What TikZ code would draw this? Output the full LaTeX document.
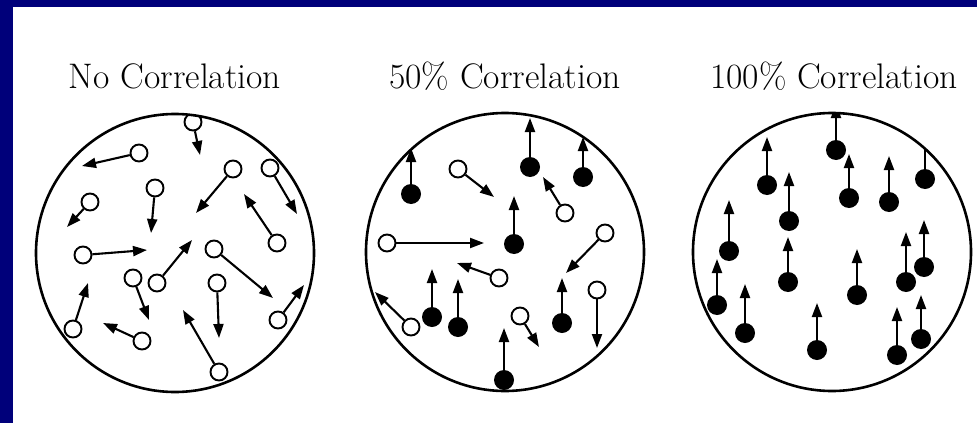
\documentclass[tikz,border=0pt]{standalone}
\usepackage{tikz}
\usetikzlibrary{arrows.meta}
\definecolor{slideblue}{RGB}{0,0,122}

\begin{document}
\begin{tikzpicture}[x=1pt,y=-1pt,
  ring/.style={draw,circle,line width=2.6pt,minimum size=278pt,inner sep=0pt},
  opendot/.style={draw,circle,line width=1.9pt,fill=white,minimum size=17pt,inner sep=0pt},
  fulldot/.style={circle,fill=black,minimum size=20pt,inner sep=0pt},
  vec/.style={line width=2.1pt,-{Triangle[length=14pt,width=10pt]}},
  title/.style={font=\fontsize{35.5}{40}\selectfont,anchor=base}]
  \useasboundingbox (0,0) rectangle (977,423);
  \fill[slideblue] (0,0) rectangle (977,423);
  \fill[white] (13,7) rectangle (977,423);

  \node[title] (t1) at (175,88) {No Correlation};
  \node[title] (t2) at (505,88) {50\% Correlation};
  \node[title] (t3) at (834,88) {100\% Correlation};

  % no correlation
  \begin{scope}
    \clip (175,253) circle[radius=139];
    \node[opendot] (n1) at (193,122) {}; \coordinate (n1t) at (200,155); \draw[vec] (n1)--(n1t);
    \node[opendot] (n2) at (139,153) {}; \coordinate (n2t) at (82,166); \draw[vec] (n2)--(n2t);
    \node[opendot] (n3) at (233,169) {}; \coordinate (n3t) at (196,213); \draw[vec] (n3)--(n3t);
    \node[opendot] (n4) at (270,168) {}; \coordinate (n4t) at (297,214); \draw[vec] (n4)--(n4t);
    \node[opendot] (n5) at (155,188) {}; \coordinate (n5t) at (151,233); \draw[vec] (n5)--(n5t);
    \node[opendot] (n6) at (90,202) {}; \coordinate (n6t) at (67,227); \draw[vec] (n6)--(n6t);
    \node[opendot] (n7) at (277,243) {}; \coordinate (n7t) at (244,194); \draw[vec] (n7)--(n7t);
    \node[opendot] (n8) at (83,255) {}; \coordinate (n8t) at (147,250); \draw[vec] (n8)--(n8t);
    \node[opendot] (n9) at (214,249) {}; \coordinate (n9t) at (273,298); \draw[vec] (n9)--(n9t);
    \node[opendot] (n10) at (157,283) {}; \coordinate (n10t) at (192,240); \draw[vec] (n10)--(n10t);
    \node[opendot] (n11) at (133,278) {}; \coordinate (n11t) at (149,320); \draw[vec] (n11)--(n11t);
    \node[opendot] (n12) at (217,283) {}; \coordinate (n12t) at (219,338); \draw[vec] (n12)--(n12t);
    \node[opendot] (n13) at (73,329) {}; \coordinate (n13t) at (88,283); \draw[vec] (n13)--(n13t);
    \node[opendot] (n14) at (142,341) {}; \coordinate (n14t) at (103,323); \draw[vec] (n14)--(n14t);
    \node[opendot] (n15) at (219,372) {}; \coordinate (n15t) at (183,310); \draw[vec] (n15)--(n15t);
    \node[opendot] (n16) at (278,320) {}; \coordinate (n16t) at (304,285); \draw[vec] (n16)--(n16t);
  \end{scope}
  \node[ring] (ring1) at (175,253) {};

  % half correlation
  \begin{scope}
    \clip (505,252) circle[radius=139];
    \node[fulldot] (h1) at (411,194) {}; \coordinate (h1t) at (411,148); \draw[vec] (h1)--(h1t);
    \node[fulldot] (h2) at (530,167) {}; \coordinate (h2t) at (530,118); \draw[vec] (h2)--(h2t);
    \node[fulldot] (h3) at (583,177) {}; \coordinate (h3t) at (583,137); \draw[vec] (h3)--(h3t);
    \node[fulldot] (h4) at (514,244) {}; \coordinate (h4t) at (514,196); \draw[vec] (h4)--(h4t);
    \node[fulldot] (h5) at (432,317) {}; \coordinate (h5t) at (432,269); \draw[vec] (h5)--(h5t);
    \node[fulldot] (h6) at (458,327) {}; \coordinate (h6t) at (458,279); \draw[vec] (h6)--(h6t);
    \node[fulldot] (h7) at (562,323) {}; \coordinate (h7t) at (562,278); \draw[vec] (h7)--(h7t);
    \node[fulldot] (h8) at (504,380) {}; \coordinate (h8t) at (504,328); \draw[vec] (h8)--(h8t);
    \node[opendot] (h9) at (458,169) {}; \coordinate (h9t) at (494,197); \draw[vec] (h9)--(h9t);
    \node[opendot] (h10) at (565,213) {}; \coordinate (h10t) at (543,177); \draw[vec] (h10)--(h10t);
    \node[opendot] (h11) at (387,243) {}; \coordinate (h11t) at (484,243); \draw[vec] (h11)--(h11t);
    \node[opendot] (h12) at (605,233) {}; \coordinate (h12t) at (566,273); \draw[vec] (h12)--(h12t);
    \node[opendot] (h13) at (499,278) {}; \coordinate (h13t) at (457,263); \draw[vec] (h13)--(h13t);
    \node[opendot] (h14) at (597,290) {}; \coordinate (h14t) at (597,348); \draw[vec] (h14)--(h14t);
    \node[opendot] (h15) at (411,327) {}; \coordinate (h15t) at (375,292); \draw[vec] (h15)--(h15t);
    \node[opendot] (h16) at (520,316) {}; \coordinate (h16t) at (539,347); \draw[vec] (h16)--(h16t);
  \end{scope}
  \node[ring] (ring2) at (505,252) {};

  % full correlation
  \begin{scope}
    \clip (832,252) circle[radius=139];
    \node[fulldot] (f1) at (836,150) {}; \coordinate (f1t) at (836,104); \draw[vec] (f1)--(f1t);
    \node[fulldot] (f2) at (767,185) {}; \coordinate (f2t) at (767,137); \draw[vec] (f2)--(f2t);
    \node[fulldot] (f3) at (849,198) {}; \coordinate (f3t) at (849,154); \draw[vec] (f3)--(f3t);
    \node[fulldot] (f4) at (889,202) {}; \coordinate (f4t) at (889,156); \draw[vec] (f4)--(f4t);
    \node[fulldot] (f5) at (925,179) {}; \coordinate (f5t) at (925,130); \draw[vec] (f5)--(f5t);
    \node[fulldot] (f6) at (789,221) {}; \coordinate (f6t) at (789,172); \draw[vec] (f6)--(f6t);
    \node[fulldot] (f7) at (729,251) {}; \coordinate (f7t) at (729,200); \draw[vec] (f7)--(f7t);
    \node[fulldot] (f8) at (788,282) {}; \coordinate (f8t) at (788,237); \draw[vec] (f8)--(f8t);
    \node[fulldot] (f9) at (857,295) {}; \coordinate (f9t) at (857,249); \draw[vec] (f9)--(f9t);
    \node[fulldot] (f10) at (906,282) {}; \coordinate (f10t) at (906,232); \draw[vec] (f10)--(f10t);
    \node[fulldot] (f11) at (924,267) {}; \coordinate (f11t) at (924,220); \draw[vec] (f11)--(f11t);
    \node[fulldot] (f12) at (717,305) {}; \coordinate (f12t) at (717,259); \draw[vec] (f12)--(f12t);
    \node[fulldot] (f13) at (745,333) {}; \coordinate (f13t) at (745,284); \draw[vec] (f13)--(f13t);
    \node[fulldot] (f14) at (817,350) {}; \coordinate (f14t) at (817,303); \draw[vec] (f14)--(f14t);
    \node[fulldot] (f15) at (897,355) {}; \coordinate (f15t) at (897,307); \draw[vec] (f15)--(f15t);
    \node[fulldot] (f16) at (921,339) {}; \coordinate (f16t) at (921,295); \draw[vec] (f16)--(f16t);
  \end{scope}
  \node[ring] (ring3) at (832,252) {};
\end{tikzpicture}
\end{document}
